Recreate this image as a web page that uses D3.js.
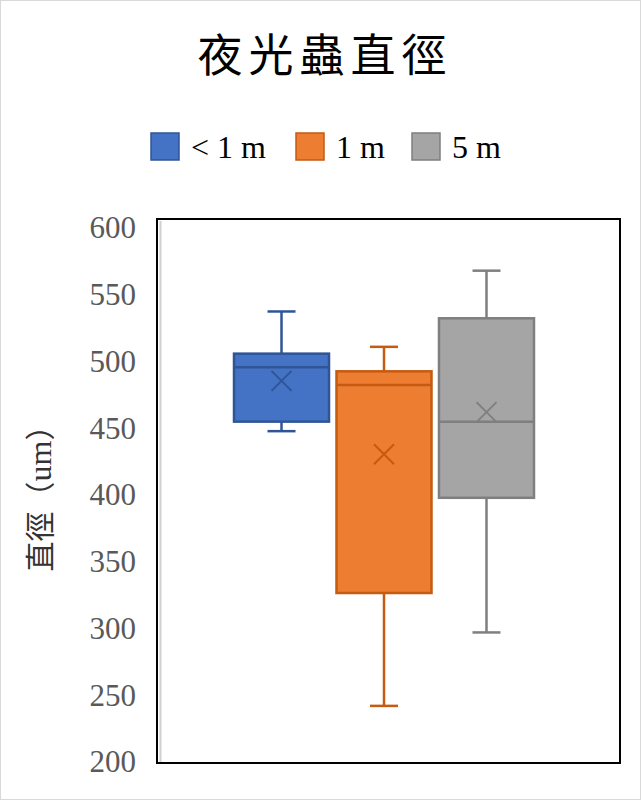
<!DOCTYPE html>
<html><head><meta charset="utf-8">
<script src="https://cdn.jsdelivr.net/npm/d3@7"></script>
<style>body{margin:0;background:#fff}</style>
</head><body><svg id="c" width="641" height="800"></svg>
<script>
const title = "夜光蟲直徑";
const yTitleCJK = "直徑";
const yTitleUnit = "um";
const series = ["< 1 m", "1 m", "5 m"];
const whiskerLow = [444, 242, 296];
const q1 = [451, 325, 395];
const median = [491, 478, 451];
const q3 = [501, 488, 527];
const whiskerHigh = [532, 506, 562];
const means = [481, 427, 458];
const yTicks = [200, 250, 300, 350, 400, 450, 500, 550, 600];
const fills = ["#4472C4", "#ED7D31", "#A5A5A5"];
const strokes = ["#2F5597", "#C55A11", "#7F7F7F"];

const svg = d3.select("#c");
svg.append("rect").attr("x",0.5).attr("y",0.5).attr("width",640).attr("height",799)
  .attr("fill","#fff").attr("stroke","#d9d9d9");

const plot = {l:157, r:620, t:219, b:763};
const y = d3.scaleLinear().domain([200,600]).range([plot.b, plot.t]);
const yLab = d3.scaleLinear().domain([200,600]).range([761, 227]);
const x = d3.scaleBand().domain(series).range([234, 534]).paddingInner(0.073);

// frame
svg.append("line").attr("x1",plot.l+3.5).attr("x2",plot.l+3.5).attr("y1",plot.t+2).attr("y2",plot.b-1)
  .attr("stroke","#d0d0d0").attr("stroke-width",2);
svg.append("rect").attr("x",plot.l).attr("y",plot.t).attr("width",plot.r-plot.l).attr("height",plot.b-plot.t)
  .attr("fill","none").attr("stroke","#000").attr("stroke-width",2);

// y axis labels
const ax = svg.append("g").attr("transform",`translate(136,0)`)
  .call(d3.axisLeft(yLab).tickValues(yTicks).tickSize(0).tickPadding(0));
ax.select(".domain").remove();
ax.selectAll("text").attr("font-family","'Liberation Serif', serif").attr("font-size",31)
  .attr("fill","#595959").attr("dy","0.35em");

const yt = svg.append("text").attr("transform","translate(40,491) rotate(-90)")
  .attr("text-anchor","middle").attr("dy","0.35em")
  .attr("font-family","'Noto Sans CJK TC', serif").attr("font-size",30).attr("fill","#333");
yt.append("tspan").text(yTitleCJK + "（");
yt.append("tspan").attr("font-family","'Liberation Serif', serif").attr("font-size",32).text(yTitleUnit);
yt.append("tspan").text("）");

// title
svg.append("text").attr("x",325).attr("y",72).attr("text-anchor","middle")
  .attr("font-family","'Noto Sans CJK TC', serif").attr("font-size",45).attr("letter-spacing",6)
  .attr("fill","#000").text(title);

// legend
const legX = [151, 296, 412];
series.forEach((s,i)=>{
  const g = svg.append("g");
  g.append("rect").attr("x",legX[i]).attr("y",133).attr("width",28).attr("height",27)
    .attr("fill",fills[i]).attr("stroke",strokes[i]).attr("stroke-width",1.5);
  g.append("text").attr("x",legX[i]+40).attr("y",158).attr("font-family","'Liberation Serif', serif")
    .attr("font-size",32).attr("fill","#000").text(s);
});

// boxes
series.forEach((s,i)=>{
  const x0 = x(s), w = x.bandwidth(), cx = x0 + w/2;
  const g = svg.append("g").attr("stroke",strokes[i]).attr("stroke-width",2.5);
  g.append("line").attr("x1",cx).attr("x2",cx).attr("y1",y(whiskerHigh[i])).attr("y2",y(q3[i]));
  g.append("line").attr("x1",cx).attr("x2",cx).attr("y1",y(q1[i])).attr("y2",y(whiskerLow[i]));
  g.append("line").attr("x1",cx-14).attr("x2",cx+14).attr("y1",y(whiskerHigh[i])).attr("y2",y(whiskerHigh[i]));
  g.append("line").attr("x1",cx-14).attr("x2",cx+14).attr("y1",y(whiskerLow[i])).attr("y2",y(whiskerLow[i]));
  g.append("rect").attr("x",x0).attr("y",y(q3[i])).attr("width",w).attr("height",y(q1[i])-y(q3[i]))
    .attr("fill",fills[i]);
  g.append("line").attr("x1",x0).attr("x2",x0+w).attr("y1",y(median[i])).attr("y2",y(median[i]));
  const my = y(means[i]), r = 10;
  g.append("path").attr("d",`M${cx-r},${my-r}L${cx+r},${my+r}M${cx-r},${my+r}L${cx+r},${my-r}`)
    .attr("stroke-width",2).attr("fill","none");
});
</script></body></html>
